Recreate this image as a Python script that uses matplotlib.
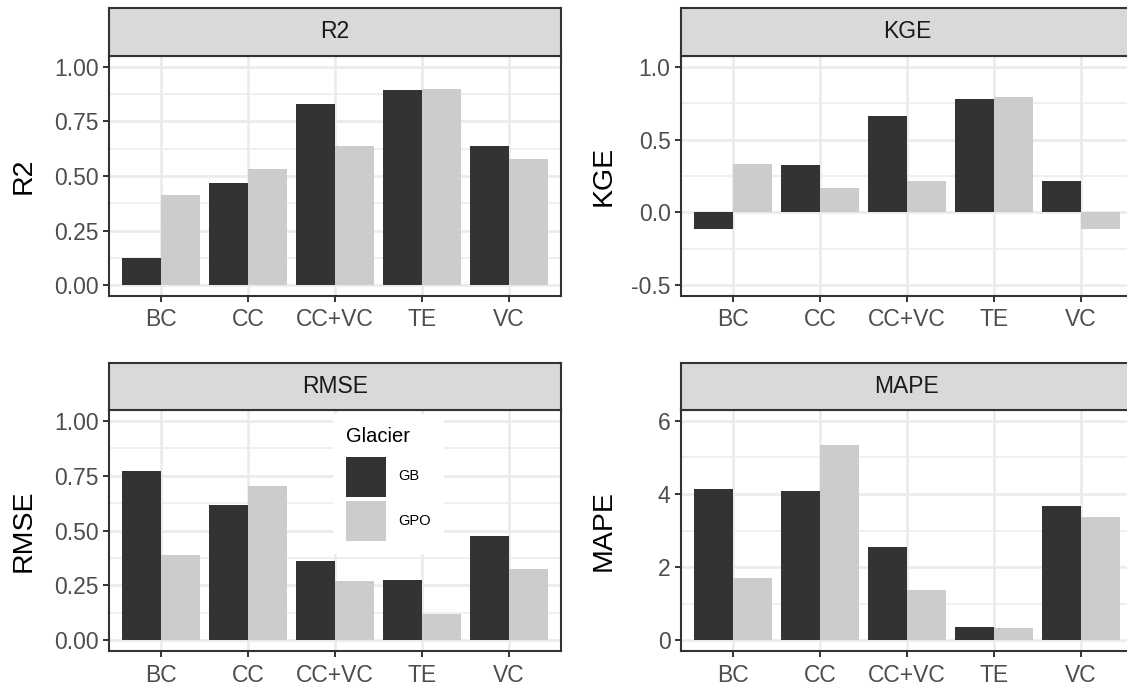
import numpy as np
import matplotlib
matplotlib.use("Agg")
import matplotlib.pyplot as plt
from matplotlib.patches import Patch

plt.rcParams["font.family"] = ["Liberation Sans", "DejaVu Sans"]

methods = ["BC", "CC", "CC+VC", "TE", "VC"]
glaciers = ["GB", "GPO"]

r2_gb = [0.125, 0.470, 0.832, 0.893, 0.636]
r2_gpo = [0.412, 0.530, 0.636, 0.897, 0.580]
kge_gb = [-0.112, 0.324, 0.660, 0.777, 0.215]
kge_gpo = [0.331, 0.167, 0.215, 0.790, -0.112]
rmse_gb = [0.770, 0.616, 0.360, 0.276, 0.473]
rmse_gpo = [0.386, 0.701, 0.271, 0.120, 0.326]
mape_gb = [4.13, 4.07, 2.56, 0.37, 3.66]
mape_gpo = [1.71, 5.33, 1.38, 0.34, 3.36]

metrics = ["R2", "KGE", "RMSE", "MAPE"]
values = {"R2": (r2_gb, r2_gpo), "KGE": (kge_gb, kge_gpo),
          "RMSE": (rmse_gb, rmse_gpo), "MAPE": (mape_gb, mape_gpo)}
limits = {"R2": (0, 1), "KGE": (-0.5, 1), "RMSE": (0, 1), "MAPE": (0, 6)}
majors = {"R2": [0, 0.25, 0.5, 0.75, 1.0], "KGE": [-0.5, 0, 0.5, 1.0],
          "RMSE": [0, 0.25, 0.5, 0.75, 1.0], "MAPE": [0, 2, 4, 6]}
fmt = {"R2": "{:.2f}", "KGE": "{:.1f}", "RMSE": "{:.2f}", "MAPE": "{:.0f}"}

fills = ["#333333", "#CCCCCC"]
dark = "#333333"
grid_col = "#EBEBEB"

W, H = 1127, 685
fig = plt.figure(figsize=(W / 100, H / 100), dpi=100)

# pixel boxes: (left, right) per column, (strip top, strip bottom, panel bottom) per row
cols = [(109, 561), (681, 1133)]
rows = [(8, 56, 296), (363, 410, 651)]
label_x = [24, 604]


def fbox(x0, x1, y0, y1):
    return [x0 / W, 1 - y1 / H, (x1 - x0) / W, (y1 - y0) / H]


x = np.arange(len(methods))
bw = 0.45

for i, m in enumerate(metrics):
    r, c = divmod(i, 2)
    x0, x1 = cols[c]
    st, sb, pb = rows[r]

    ax = fig.add_axes(fbox(x0, x1, sb, pb))
    gb, gpo = values[m]
    ax.bar(x - bw / 2, gb, width=bw, color=fills[0], zorder=3, label=glaciers[0])
    ax.bar(x + bw / 2, gpo, width=bw, color=fills[1], zorder=3, label=glaciers[1])

    lo, hi = limits[m]
    pad = (hi - lo) * 0.05
    ax.set_ylim(lo - pad, hi + pad)
    ax.set_xlim(-0.6, len(methods) - 0.4)

    mj = majors[m]
    step = mj[1] - mj[0]
    ax.set_yticks(mj)
    ax.set_yticklabels([fmt[m].format(v) for v in mj])
    ax.set_yticks([v + step / 2 for v in mj[:-1]], minor=True)
    ax.set_xticks(x)
    ax.set_xticklabels(methods)

    ax.grid(True, which="major", color=grid_col, linewidth=1.9, zorder=0)
    ax.grid(True, which="minor", axis="y", color=grid_col, linewidth=1.1, zorder=0)
    ax.set_axisbelow(True)
    ax.tick_params(which="major", length=4.5, width=1.4, color=dark,
                   labelcolor="#4D4D4D", labelsize=16.5, pad=3)
    ax.tick_params(axis="x", pad=4.5)
    ax.tick_params(which="minor", length=0)
    for s in ax.spines.values():
        s.set_color(dark)
        s.set_linewidth(1.5)

    fig.text(label_x[c] / W, 1 - (sb + pb) / 2 / H, m, rotation=90,
             ha="center", va="center", fontsize=20.5, color="black")

    # facet strip
    sax = fig.add_axes(fbox(x0, x1, st, sb))
    sax.set_facecolor("#D9D9D9")
    sax.set_xticks([])
    sax.set_yticks([])
    for s in sax.spines.values():
        s.set_color(dark)
        s.set_linewidth(1.5)
    sax.text(0.5, 0.5, m, transform=sax.transAxes, ha="center", va="center",
             fontsize=16.5, color="#1A1A1A")

    if m == "RMSE":
        handles = [Patch(facecolor=f, edgecolor="none") for f in fills]
        leg = ax.legend(handles, glaciers, title="Glacier", loc="upper left",
                        bbox_to_anchor=(333 / W, 1 - 414 / H),
                        bbox_transform=fig.transFigure, frameon=True,
                        fancybox=False, edgecolor="none", facecolor="white",
                        framealpha=1, fontsize=10.5, title_fontsize=14.5,
                        handlelength=2.75, handleheight=3.84, labelspacing=0.3,
                        handletextpad=0.8, borderpad=0.9, borderaxespad=0,
                        alignment="left")
        # a bit more room between the title and the keys
        leg._legend_box.sep = 7.5
        leg.set_zorder(5)

fig.savefig("out.png", dpi=100)
